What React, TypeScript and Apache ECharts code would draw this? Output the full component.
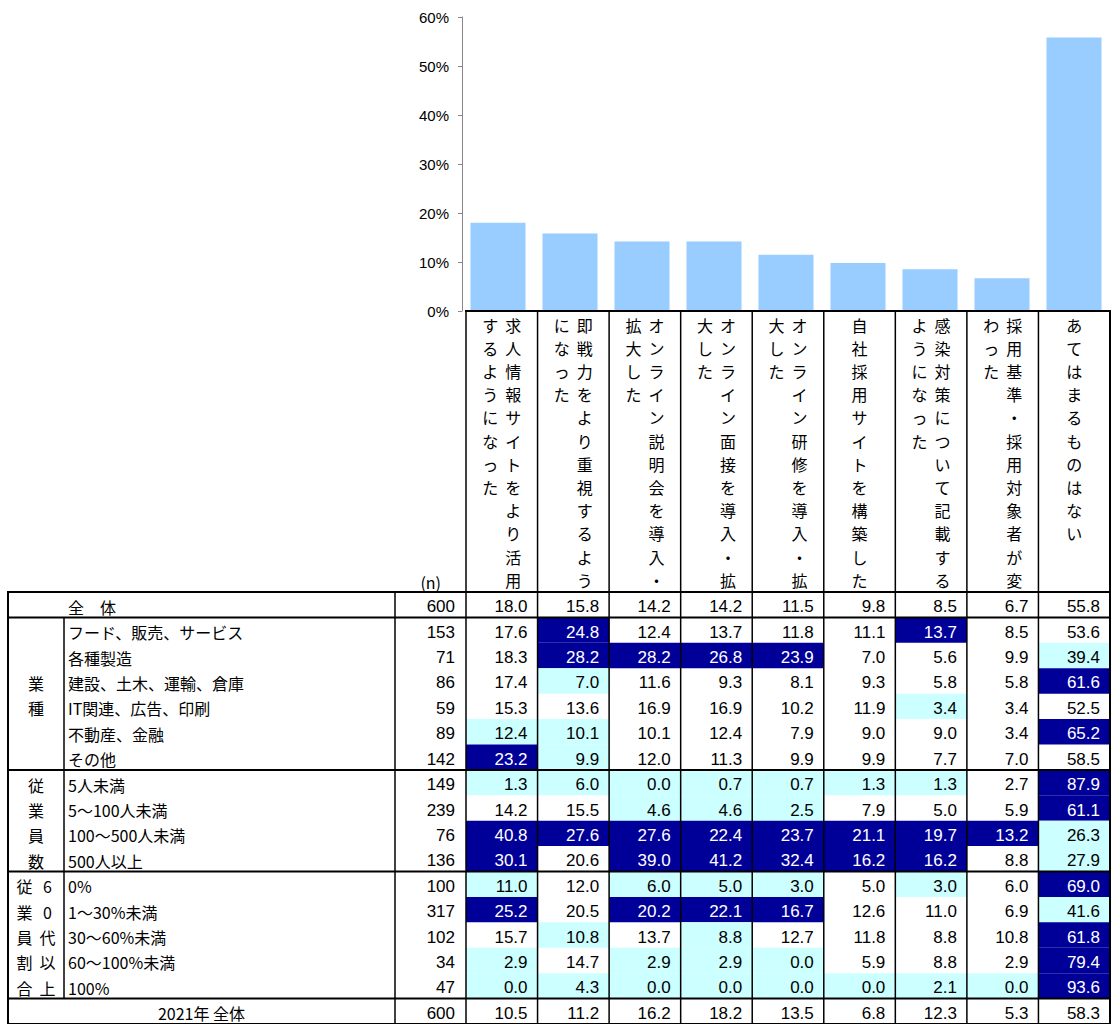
import React, { useEffect, useRef } from 'react';
import * as echarts from 'echarts';

// ---------- data ----------
const questions = [
  '求人情報サイトをより活用するようになった',
  '即戦力をより重視するようになった',
  'オンライン説明会を導入・拡大した',
  'オンライン面接を導入・拡大した',
  'オンライン研修を導入・拡大した',
  '自社採用サイトを構築した',
  '感染対策について記載するようになった',
  '採用基準・採用対象者が変わった',
  'あてはまるものはない',
];
const overall = [18.0, 15.8, 14.2, 14.2, 11.5, 9.8, 8.5, 6.7, 55.8];
const yTickMax = 60;
const yTickStep = 10;

const rowLabels = [
  '全　体',
  'フード、販売、サービス',
  '各種製造',
  '建設、土木、運輸、倉庫',
  'IT関連、広告、印刷',
  '不動産、金融',
  'その他',
  '5人未満',
  '5～100人未満',
  '100～500人未満',
  '500人以上',
  '0%',
  '1～30%未満',
  '30～60%未満',
  '60～100%未満',
  '100%',
  '2021年 全体',
];
const rowN = [600, 153, 71, 86, 59, 89, 142, 149, 239, 76, 136, 100, 317, 102, 34, 47, 600];
const rowValues = [
  [18.0, 15.8, 14.2, 14.2, 11.5, 9.8, 8.5, 6.7, 55.8],
  [17.6, 24.8, 12.4, 13.7, 11.8, 11.1, 13.7, 8.5, 53.6],
  [18.3, 28.2, 28.2, 26.8, 23.9, 7.0, 5.6, 9.9, 39.4],
  [17.4, 7.0, 11.6, 9.3, 8.1, 9.3, 5.8, 5.8, 61.6],
  [15.3, 13.6, 16.9, 16.9, 10.2, 11.9, 3.4, 3.4, 52.5],
  [12.4, 10.1, 10.1, 12.4, 7.9, 9.0, 9.0, 3.4, 65.2],
  [23.2, 9.9, 12.0, 11.3, 9.9, 9.9, 7.7, 7.0, 58.5],
  [1.3, 6.0, 0.0, 0.7, 0.7, 1.3, 1.3, 2.7, 87.9],
  [14.2, 15.5, 4.6, 4.6, 2.5, 7.9, 5.0, 5.9, 61.1],
  [40.8, 27.6, 27.6, 22.4, 23.7, 21.1, 19.7, 13.2, 26.3],
  [30.1, 20.6, 39.0, 41.2, 32.4, 16.2, 16.2, 8.8, 27.9],
  [11.0, 12.0, 6.0, 5.0, 3.0, 5.0, 3.0, 6.0, 69.0],
  [25.2, 20.5, 20.2, 22.1, 16.7, 12.6, 11.0, 6.9, 41.6],
  [15.7, 10.8, 13.7, 8.8, 12.7, 11.8, 8.8, 10.8, 61.8],
  [2.9, 14.7, 2.9, 2.9, 0.0, 5.9, 8.8, 2.9, 79.4],
  [0.0, 4.3, 0.0, 0.0, 0.0, 0.0, 2.1, 0.0, 93.6],
  [10.5, 11.2, 16.2, 18.2, 13.5, 6.8, 12.3, 5.3, 58.3],
];
// H = significantly high (navy), L = significantly low (light cyan), . = none
const rowMarks = [
  '.........',
  '.H....H..',
  '.HHHH...L',
  '.L......H',
  '......L..',
  'LL......H',
  'HL.......',
  'LLLLLLL.H',
  '..LLL...H',
  'HHHHHHHHL',
  'H.HHHHH.L',
  'L.LLL.L.H',
  'H.HHH...L',
  '.L.L....H',
  'L.LLL...H',
  'LLLLLLLLH',
  '.........',
];
const groupTitles = ['業種', '従業員数', '60代以上従業員割合'];
const groupSizes = [6, 4, 5];
const nHeader = '(n)';

// ---------- layout / style ----------
const L = {
  width: 1111,
  height: 1024,
  barTop: 17,
  barLeft: 462,
  headerTop: 311,
  tableTop: 592,
  rowH: 25.5,
  tableLeft: 8,
  labelLeft: 64,
  nLeft: 395,
  dataLeft: 466,
  dataRight: 1110,
  headerChars: 12,
  headerPitch: 23.2,
  headerColGap: 11.5,
};
const C = {
  bar: '#99CCFF',
  high: '#000099',
  low: '#CCFFFF',
  line: '#000000',
  axis: '#868686',
};
const JP = '"Noto Sans CJK JP", "Noto Sans CJK SC", sans-serif';
const NUM = '"Liberation Sans", Arial, sans-serif';

function vertical(s: string) {
  return Array.from(s).join('\n');
}
function chunks(s: string, n: number) {
  const arr = Array.from(s);
  const out: string[] = [];
  for (let i = 0; i < arr.length; i += n) out.push(arr.slice(i, i + n).join(''));
  return out;
}

export default function App() {
  const ref = useRef<HTMLDivElement>(null);
  useEffect(() => {
    const chart = echarts.init(ref.current!, null, { renderer: 'svg' });
    const nCols = questions.length;
    const nRows = rowLabels.length;
    const colIdx = questions.map((_, i) => String(i));
    const rowIdx = rowLabels.map((_, i) => String(i));

    const cellData: number[][] = [];
    rowValues.forEach((vals, r) => vals.forEach((v, c) => cellData.push([c, r, v])));

    const groupData: number[][] = [];
    let start = 1;
    groupSizes.forEach((size) => {
      groupData.push([0, start, start + size - 1]);
      start += size;
    });
    const groupBoundaries = [0, 1];
    groupData.forEach((g) => groupBoundaries.push(g[2] + 1));
    groupBoundaries.push(nRows);

    const option: any = {
      animation: false,
      backgroundColor: '#ffffff',
      grid: [
        {
          left: L.barLeft,
          top: L.barTop,
          width: L.dataRight - L.barLeft,
          height: L.headerTop - L.barTop,
        },
        {
          left: L.dataLeft,
          top: L.tableTop,
          width: L.dataRight - L.dataLeft,
          height: nRows * L.rowH,
        },
      ],
      xAxis: [
        {
          gridIndex: 0,
          type: 'category',
          data: questions,
          axisLine: { show: false },
          axisTick: { show: false },
          axisLabel: { show: false },
          splitLine: { show: false },
        },
        {
          gridIndex: 1,
          type: 'category',
          data: colIdx,
          show: false,
        },
      ],
      yAxis: [
        {
          gridIndex: 0,
          type: 'value',
          min: 0,
          max: yTickMax,
          interval: yTickStep,
          axisLine: { show: true, lineStyle: { color: C.axis, width: 1 } },
          axisTick: { show: true, length: 4, lineStyle: { color: C.axis } },
          axisLabel: {
            formatter: '{value}%',
            color: '#000',
            fontSize: 15,
            fontFamily: NUM,
            margin: 13,
          },
          splitLine: { show: false },
        },
        {
          gridIndex: 1,
          type: 'category',
          data: rowIdx,
          inverse: true,
          show: false,
        },
      ],
      series: [
        {
          type: 'bar',
          xAxisIndex: 0,
          yAxisIndex: 0,
          data: overall,
          barWidth: 55,
          itemStyle: { color: C.bar },
          silent: true,
        },
        // table cells
        {
          type: 'custom',
          xAxisIndex: 1,
          yAxisIndex: 1,
          clip: false,
          z: 2,
          data: cellData,
          renderItem: (params: any, api: any) => {
            const c = api.value(0);
            const r = api.value(1);
            const v = api.value(2);
            const [cx, cy] = api.coord([c, r]);
            const [w, h] = api.size([1, 1]);
            const mark = rowMarks[r][c];
            const children: any[] = [];
            if (mark === 'H' || mark === 'L') {
              children.push({
                type: 'rect',
                shape: { x: cx - w / 2, y: cy - h / 2, width: w, height: h },
                style: { fill: mark === 'H' ? C.high : C.low },
              });
            }
            children.push({
              type: 'text',
              x: cx + w / 2 - 10,
              y: cy + 2,
              style: {
                text: Number(v).toFixed(1),
                fill: mark === 'H' ? '#ffffff' : '#000000',
                fontSize: 17,
                fontFamily: NUM,
                align: 'right',
                verticalAlign: 'middle',
              },
            });
            return { type: 'group', children };
          },
        },
        // row labels and n
        {
          type: 'custom',
          xAxisIndex: 1,
          yAxisIndex: 1,
          clip: false,
          z: 3,
          data: rowLabels.map((_, r) => [0, r]),
          renderItem: (params: any, api: any) => {
            const r = api.value(1);
            const [, cy] = api.coord([0, r]);
            const gx = params.coordSys.x;
            const last = r === nRows - 1;
            return {
              type: 'group',
              children: [
                {
                  type: 'text',
                  x: last ? (L.tableLeft + L.nLeft) / 2 : L.labelLeft + 4,
                  y: cy + 2,
                  style: {
                    text: rowLabels[r],
                    fill: '#000',
                    fontSize: 16,
                    fontFamily: JP,
                    align: last ? 'center' : 'left',
                    verticalAlign: 'middle',
                  },
                },
                {
                  type: 'text',
                  x: gx - 11,
                  y: cy + 2,
                  style: {
                    text: String(rowN[r]),
                    fill: '#000',
                    fontSize: 17,
                    fontFamily: NUM,
                    align: 'right',
                    verticalAlign: 'middle',
                  },
                },
              ],
            };
          },
        },
        // group titles (vertical)
        {
          type: 'custom',
          xAxisIndex: 1,
          yAxisIndex: 1,
          clip: false,
          z: 3,
          data: groupData,
          renderItem: (params: any, api: any) => {
            const g = params.dataIndex;
            const s = api.value(1);
            const e = api.value(2);
            const [, h] = api.size([1, 1]);
            const y0 = api.coord([0, s])[1] - h / 2;
            const y1 = api.coord([0, e])[1] + h / 2;
            const cols = chunks(groupTitles[g], groupSizes[g]);
            const xc = (L.tableLeft + L.labelLeft) / 2;
            const children = cols.map((txt, k) => ({
              type: 'text',
              x: cols.length === 1 ? xc : xc + (k === 0 ? 11.5 : -11.5),
              y: (y0 + y1) / 2 + 2,
              style: {
                text: vertical(txt),
                fill: '#000',
                fontSize: 16,
                fontFamily: JP,
                align: 'center',
                verticalAlign: 'middle',
                lineHeight: h,
              },
            }));
            return { type: 'group', children };
          },
        },
        // header vertical labels
        {
          type: 'custom',
          xAxisIndex: 1,
          yAxisIndex: 1,
          clip: false,
          z: 3,
          data: questions.map((_, i) => [i, 0]),
          renderItem: (params: any, api: any) => {
            const i = api.value(0);
            const [cx] = api.coord([i, 0]);
            const cols = chunks(questions[i], L.headerChars);
            const children = cols.map((txt, k) => ({
              type: 'text',
              x: cols.length === 1 ? cx : cx + (k === 0 ? L.headerColGap : -L.headerColGap),
              y: L.headerTop + 2,
              style: {
                text: vertical(txt),
                fill: '#000',
                fontSize: 16,
                fontFamily: JP,
                align: 'center',
                verticalAlign: 'top',
                lineHeight: L.headerPitch,
              },
            }));
            return { type: 'group', children };
          },
        },
        // frame lines
        {
          type: 'custom',
          xAxisIndex: 1,
          yAxisIndex: 1,
          clip: false,
          z: 10,
          data: [[0, 0]],
          renderItem: (params: any, api: any) => {
            const cs = params.coordSys;
            const x0 = cs.x;
            const x1 = cs.x + cs.width;
            const yTop = cs.y;
            const yBot = cs.y + cs.height;
            const [w, h] = api.size([1, 1]);
            const rowY = (k: number) => yTop + k * h;
            const ln = (xa: number, ya: number, xb: number, yb: number, lw: number) => ({
              type: 'line',
              shape: { x1: xa, y1: ya, x2: xb, y2: yb },
              style: { stroke: C.line, lineWidth: lw },
            });
            const children: any[] = [];
            for (let c = 0; c <= nCols; c++) {
              const x = x0 + c * w;
              children.push(ln(x, L.headerTop, x, yBot, c === nCols ? 2 : 1.5));
            }
            children.push(ln(L.tableLeft, yTop - 1, L.tableLeft, yBot, 2));
            children.push(ln(L.nLeft, yTop, L.nLeft, yBot, 1.5));
            children.push(ln(L.labelLeft, rowY(1), L.labelLeft, rowY(nRows - 1), 1.5));
            children.push(ln(x0 - 1, L.headerTop, x1 + 1, L.headerTop, 2));
            groupBoundaries.forEach((k) => {
              children.push(ln(L.tableLeft - 1, rowY(k), x1 + 1, rowY(k), 2));
            });
            children.push({
              type: 'text',
              x: x0 - 25,
              y: yTop - 10,
              style: {
                text: nHeader,
                fill: '#000',
                fontSize: 16,
                fontFamily: JP,
                align: 'right',
                verticalAlign: 'middle',
              },
            });
            return { type: 'group', children };
          },
        },
      ],
    };
    chart.setOption(option);
    return () => chart.dispose();
  }, []);
  return (
    <div
      ref={ref}
      style={{ position: 'absolute', left: 0, top: 0, width: L.width, height: L.height, background: '#fff' }}
    />
  );
}
